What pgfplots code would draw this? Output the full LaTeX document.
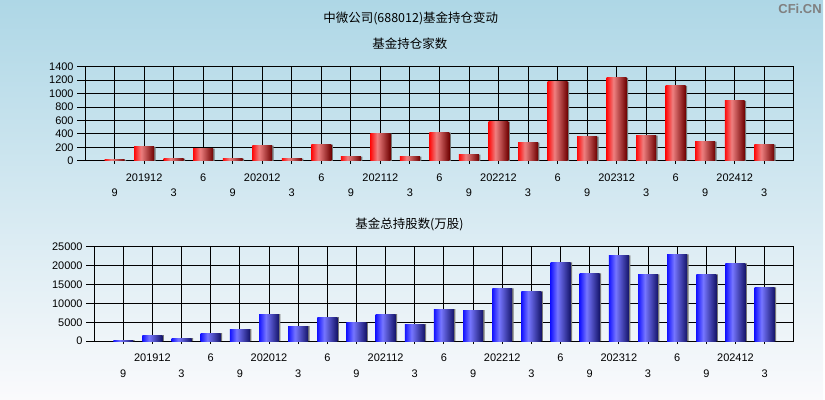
\documentclass[border=0pt]{standalone}
\usepackage{fontspec}
\setmainfont{Liberation Sans}
\newfontfamily\cjk{Noto Sans CJK SC}
\usepackage{pgfplots}
\pgfplotsset{compat=1.18}
\usepackage{pgfplotstable}

\definecolor{bgtop}{RGB}{174,215,230}
\definecolor{bgbot}{RGB}{250,250,252}
\definecolor{redL}{RGB}{255,10,10}
\definecolor{redM}{RGB}{238,128,128}
\definecolor{redR}{RGB}{110,0,0}
\definecolor{bluL}{RGB}{20,20,255}
\definecolor{bluM}{RGB}{118,118,255}
\definecolor{bluR}{RGB}{20,20,105}
\definecolor{shadow}{RGB}{120,120,120}

% cylinder look: bright edge left, highlight at about 35%, dark edge right
% (the path spans 25bp..75bp of the shading)
\pgfdeclarehorizontalshading{redbar}{100bp}{color(0bp)=(redL); color(25bp)=(redL);
  color(42bp)=(redM); color(75bp)=(redR); color(100bp)=(redR)}
\pgfdeclarehorizontalshading{bluebar}{100bp}{color(0bp)=(bluL); color(25bp)=(bluL);
  color(42bp)=(bluM); color(75bp)=(bluR); color(100bp)=(bluR)}

% period index, fund count, total shares (10k)
\pgfplotstableread{
x count shares
1 15 264
2 210 1585
3 35 792
4 182 2113
5 35 3169
6 227 7130
7 35 3961
8 241 6338
9 64 4842
10 404 7130
11 64 4489
12 419 8451
13 94 8187
14 582 13996
15 271 13204
16 1173 20863
17 360 17958
18 1232 22711
19 375 17694
20 1114 22975
21 286 17694
22 892 20599
23 241 14261
}\holdings

\pgfplotsset{
  fundaxis/.style={
    scale only axis,
    anchor=south west,
    xmin=0, xmax=24,
    ymin=0,
    axis line style={black, line width=1.1pt},
    grid=major,
    grid style={black, line width=0.9pt},
    tick pos=left,
    tick align=outside,
    major tick length=8pt,
    xtick style={black, line width=0.9pt, /pgfplots/major tick length=3pt},
    ytick style={black, line width=0.9pt},
    tick label style={font=\fontsize{11}{12}\selectfont, text=black},
    scaled y ticks=false,
    /pgf/number format/1000 sep={},
    /pgf/number format/assume math mode=true,
    xtick={2,4,...,22},
    xticklabels={201912,6,202012,6,202112,6,202212,6,202312,6,202412},
    xticklabel style={anchor=center, yshift=-8.5pt},
    extra x ticks={1,3,...,23},
    extra x tick labels={9,3,9,3,9,3,9,3,9,3,9,3},
    extra x tick style={grid=major, xticklabel style={yshift=-15.7pt}},
  },
  % one bar per call so that each bar gets its own cylinder shading
  onebar/.style={ybar, bar width=20pt, bar shift=0pt, draw=none,
    x filter/.expression={abs(x-#1)<0.1 ? x : nan}},
  oneshadow/.style={ybar, bar width=20pt, bar shift=1.5pt, draw=none, fill=shadow},
}

\begin{document}
\begin{tikzpicture}[x=1pt,y=1pt]
\shade[top color=bgtop, bottom color=bgbot] (0,0) rectangle (825,400);
\node[font=\cjk\fontsize{12.5}{14}\selectfont] at (411.7,381.5) {中微公司(688012)基金持仓变动};
\node[font=\cjk\fontsize{12.5}{14}\selectfont] at (410.8,355.8) {基金持仓家数};
\node[font=\cjk\fontsize{12.5}{14}\selectfont] at (410.5,175) {基金总持股数(万股)};
\node[font=\bfseries\fontsize{13}{14}\selectfont, text=gray] at (802,391.5) {CFi.CN};

\begin{axis}[fundaxis,
  at={(85.3pt,238.7pt)},
  width=710.4pt, height=94.6pt,
  ymax=1400, ytick={0,200,...,1400}]
\addplot[oneshadow] table[x=x, y=count] {\holdings};
\pgfplotsinvokeforeach{1,...,23}{
  \addplot[onebar=#1, shading=redbar] table[x=x, y=count] {\holdings};
}
\end{axis}

\begin{axis}[fundaxis,
  at={(94.3pt,58pt)},
  width=701.4pt, height=94.7pt,
  ymax=25000, ytick={0,5000,...,25000}]
\addplot[oneshadow] table[x=x, y=shares] {\holdings};
\pgfplotsinvokeforeach{1,...,23}{
  \addplot[onebar=#1, shading=bluebar] table[x=x, y=shares] {\holdings};
}
\end{axis}
\end{tikzpicture}
\end{document}
